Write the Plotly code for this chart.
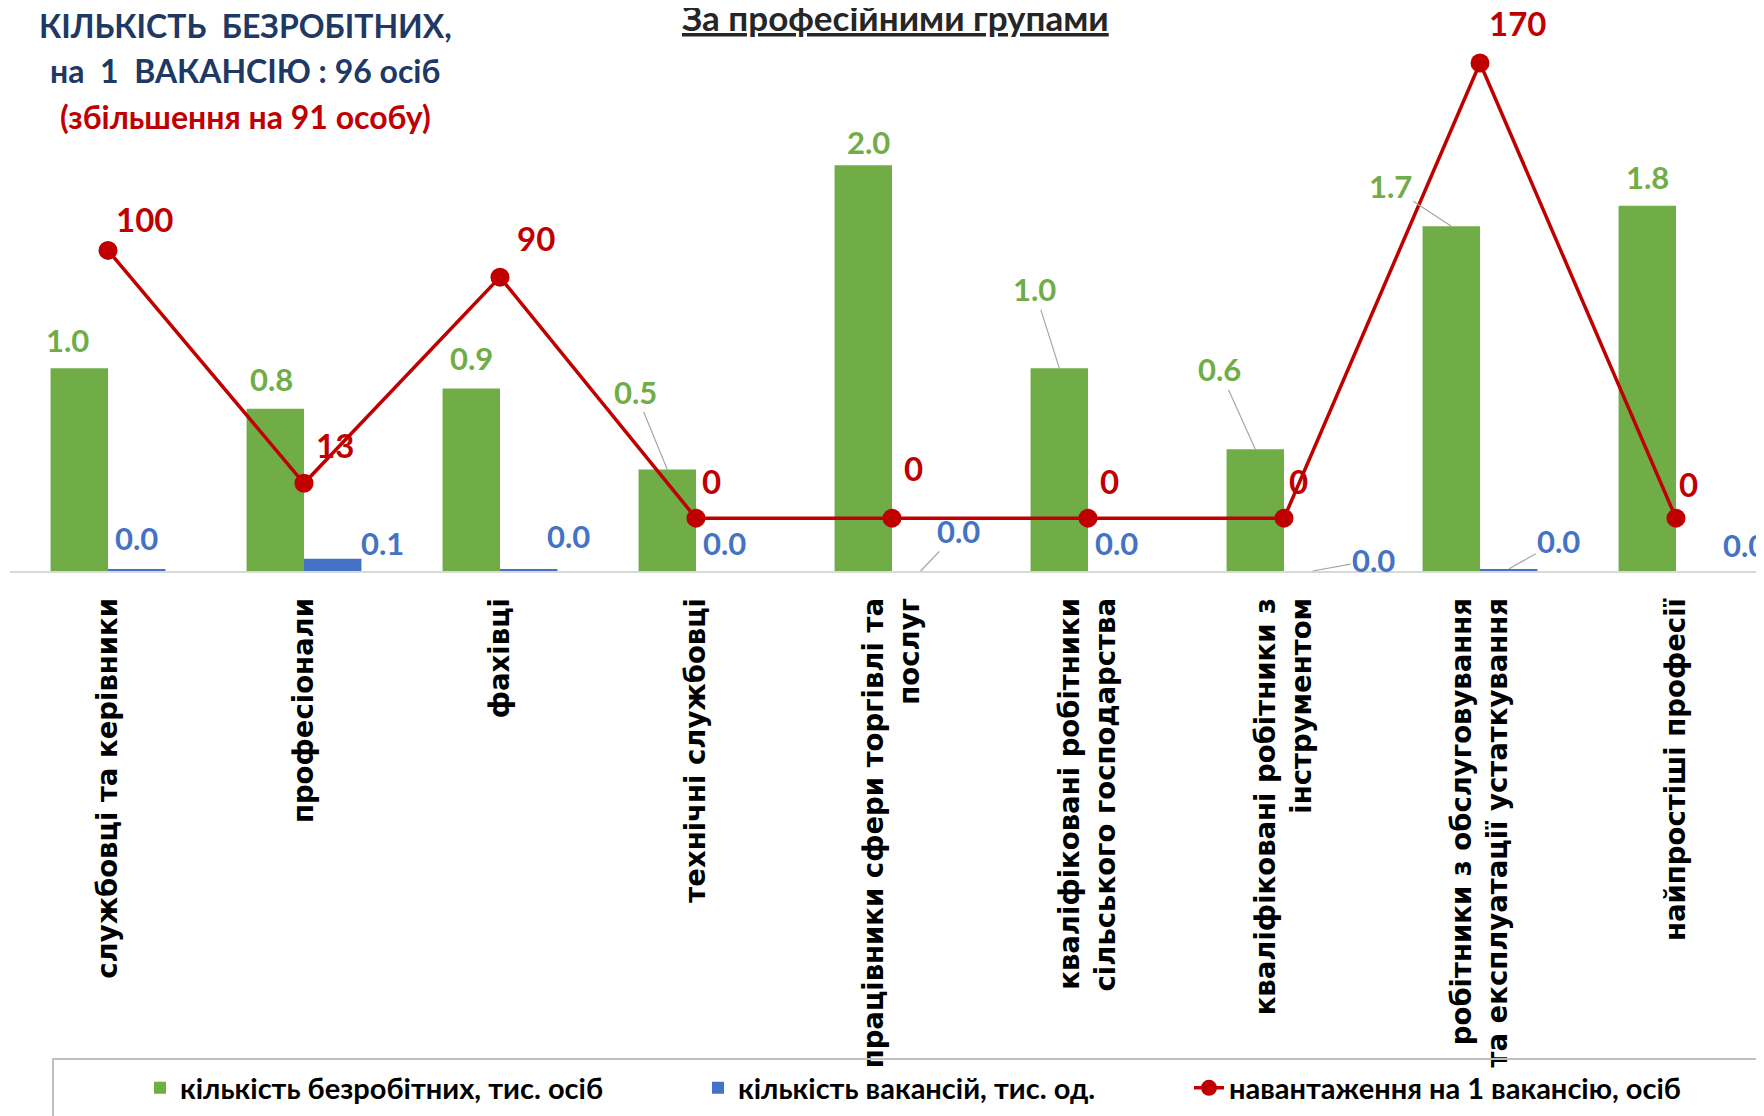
import plotly.graph_objects as go

# ---------------- data ----------------
categories = [
    "службовці та керівники",
    "професіонали",
    "фахівці",
    "технічні службовці",
    "працівники сфери торгівлі та<br>послуг",
    "кваліфіковані робітники<br>сільського господарства",
    "кваліфіковані робітники з<br>інструментом",
    "робітники з обслуговування<br>та експлуатації устаткування",
    "найпростіші професії",
]
unemployed = [1.0, 0.8, 0.9, 0.5, 2.0, 1.0, 0.6, 1.7, 1.8]          # тис. осіб
vacancies = [0.01, 0.06, 0.01, 0.0, 0.0, 0.0, 0.0, 0.01, 0.0]       # тис. од.
load_per_vacancy = [100, 13, 90, 0, 0, 0, 0, 170, 0]                # осіб

series_names = [
    "кількість безробітних, тис. осіб",
    "кількість вакансій, тис. од.",
    "навантаження на 1 вакансію, осіб",
]

# ---------------- layout constants ----------------
OFF = 8                      # page body margin
W, H = 1764 - OFF, 1116 - OFF
# plot area in page pixels
PL, PR, PT, PB = 10, 1764, 45, 571.5
L, T = PL - OFF, PT - OFF
R = (1764 - OFF) - (PR - OFF) if PR - OFF < W else 0
B = H - (PB - OFF)
PW, PH = W - L - R, H - T - B

GREEN, BLUE, RED = "#70AD47", "#4472C4", "#C00000"
NAVY = "#203864"
LEADER = "#A6A6A6"
LABEL_FONT = "Lato, 'Open Sans', sans-serif"
TICK_FONT = "'DejaVu Sans', Verdana, sans-serif"

BAR_HALF = 28.7  # px offset of each bar centre from category centre


def px_x(px):  # page px -> paper x
    return (px - OFF - L) / PW


def px_y(py):  # page px -> paper y
    return (PB - py) / PH


# label offsets (px): (dx, dy_up, leader)
green_off = [(-12, 28, False), (-4, 30, False), (0, 30, False), (-32, 78, True),
             (5, 23, False), (-25, 79, True), (-36, 80, True), (-61, 40, True), (0, 29, False)]
blue_off = [(0, 31, False), (50, 16, False), (40, 33, False), (0, 28, False),
            (38, 40, True), (0, 28, False), (61, 11, True), (50, 28, True), (40, 26, False)]
red_off = [(36, 31), (31, 38), (36, 39), (15, 37), (21, 50), (21, 37), (14, 37), (37, 40), (12, 34)]

fig = go.Figure()

fig.add_trace(go.Bar(
    x=categories, y=unemployed, name=series_names[0],
    marker=dict(color=GREEN, line=dict(width=0)), legend="legend",
))
fig.add_trace(go.Bar(
    x=categories, y=vacancies, name=series_names[1],
    marker=dict(color=BLUE, line=dict(width=0)), legend="legend2",
))
fig.add_trace(go.Scatter(
    x=categories, y=load_per_vacancy, name=series_names[2], yaxis="y2",
    mode="lines+markers", line=dict(color=RED, width=3.5),
    marker=dict(color=RED, size=19), legend="legend3",
))

annotations = []


def value_label(i, yval, yref, text, color, size, off, base_dx):
    dx, dy, leader = off
    common = dict(
        x=categories[i], y=yval, xref="x", yref=yref, text=text,
        font=dict(family=LABEL_FONT, size=size, color=color, weight="bold"),
    )
    if leader:
        annotations.append(dict(
            **common, showarrow=True, arrowhead=0, arrowwidth=1.2, arrowcolor=LEADER,
            ax=dx, ay=-dy, xshift=base_dx, standoff=0,
        ))
    else:
        annotations.append(dict(
            **common, showarrow=False, xanchor="center", yanchor="middle",
            xshift=base_dx + dx, yshift=dy,
        ))


for i, v in enumerate(unemployed):
    value_label(i, v, "y", f"{v:.1f}", GREEN, 31, green_off[i], -BAR_HALF)
for i, v in enumerate(vacancies):
    value_label(i, v, "y", f"{v:.1f}", BLUE, 31, blue_off[i], BAR_HALF)
for i, v in enumerate(load_per_vacancy):
    dx, dy = red_off[i]
    annotations.append(dict(
        x=categories[i], y=v, xref="x", yref="y2", text=f"{v:d}", showarrow=False,
        xanchor="center", yanchor="middle", xshift=dx, yshift=dy,
        font=dict(family=LABEL_FONT, size=33, color=RED, weight="bold"),
    ))

# headings
annotations.append(dict(
    x=px_x(895), y=px_y(17), xref="paper", yref="paper", showarrow=False,
    xanchor="center", yanchor="middle", text="<u>За професійними групами</u>",
    font=dict(family=LABEL_FONT, size=35, color="#262626", weight="bold"),
))
for text, py, col in [("КІЛЬКІСТЬ&nbsp; БЕЗРОБІТНИХ,", 25, NAVY),
                      ("на&nbsp; 1&nbsp; ВАКАНСІЮ : 96 осіб", 71, NAVY),
                      ("(збільшення на 91 особу)", 117, RED)]:
    annotations.append(dict(
        x=px_x(245), y=px_y(py), xref="paper", yref="paper", showarrow=False,
        xanchor="center", yanchor="middle", text=text,
        font=dict(family=LABEL_FONT, size=32, color=col, weight="bold"),
    ))

legend_common = dict(
    orientation="h", xanchor="left", yanchor="middle", bgcolor="rgba(0,0,0,0)",
    font=dict(family=LABEL_FONT, size=29, color="#000000", weight="bold"),
    y=px_y(1089),
)

fig.update_layout(
    width=W, height=H,
    margin=dict(l=L, r=R, t=T, b=B, pad=0),
    paper_bgcolor="white", plot_bgcolor="white",
    barmode="group", bargap=0.414, bargroupgap=0,
    xaxis=dict(
        range=[-0.5, 8.449], showline=True, linecolor="#D9D9D9", linewidth=2,
        ticks="", tickangle=-90, ticklabelstandoff=14, showgrid=False,
        tickfont=dict(family=TICK_FONT, size=27.5, color="#000000", weight="bold"),
    ),
    yaxis=dict(range=[0, 2.593], visible=False, showgrid=False, zeroline=False),
    yaxis2=dict(range=[-19.74, 176.7], overlaying="y", side="right", visible=False,
                showgrid=False, zeroline=False),
    legend=dict(**legend_common, x=px_x(140)),
    legend2=dict(**legend_common, x=px_x(698)),
    legend3=dict(**legend_common, x=px_x(1189)),
    annotations=annotations,
    shapes=[dict(
        type="rect", xref="paper", yref="paper",
        x0=px_x(53), x1=px_x(1760), y0=px_y(1060), y1=px_y(1125),
        line=dict(color="#BFBFBF", width=2), fillcolor="rgba(0,0,0,0)", layer="above",
    )],
    showlegend=True,
)

fig.write_html("out.html")
